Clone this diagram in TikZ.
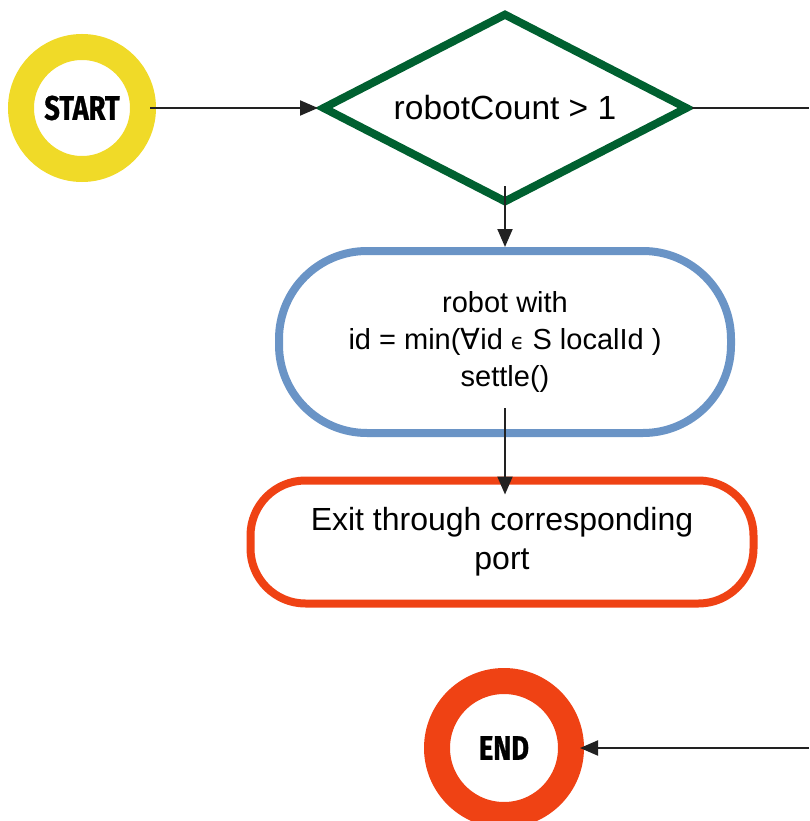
\documentclass[tikz,border=0pt]{standalone}
\usepackage{fontspec}
\setmainfont{Liberation Sans}
\newfontfamily\symfont{DejaVu Sans}
\newfontfamily\termfont[FakeStretch=0.8,FakeBold=0.8]{Fira Sans}
\usetikzlibrary{shapes.geometric,arrows.meta}
\definecolor{startyellow}{RGB}{240,218,40}
\definecolor{endred}{RGB}{239,66,20}
\definecolor{decgreen}{RGB}{0,96,48}
\definecolor{procblue}{RGB}{106,148,198}
\definecolor{arrowgray}{RGB}{34,34,34}
\tikzset{
  terminal/.style={circle, draw, line width=26pt, minimum size=122pt, inner sep=0pt,
    font=\termfont\bfseries\fontsize{34}{40}\selectfont},
  decision/.style={diamond, draw=decgreen, line width=8pt, minimum width=366pt,
    minimum height=190pt, aspect=1.93, inner sep=0pt, font=\fontsize{33.5}{38}\selectfont},
  process/.style={rectangle, draw, line width=8pt, align=center, inner sep=0pt},
  flow/.style={draw=arrowgray, line width=2pt, -{Triangle[length=18pt,width=15pt]}},
  plain/.style={draw=arrowgray, line width=2pt}
}
\begin{document}
\begin{tikzpicture}[x=1pt,y=-1pt]
  \useasboundingbox (0,0) rectangle (809,821);
  % terminals, decision and process boxes
  \node[terminal, draw=startyellow] (start) at (82,108) {START};
  \node[decision] (test) at (505,108) {robotCount > 1};
  \node[process, draw=procblue, minimum width=452pt, minimum height=182pt,
        rounded corners=88pt, font=\fontsize{29}{37}\selectfont] (settle) at (505,342)
        {robot with\\ id = min({\symfont ∀}id {\symfont\fontsize{22}{37}\selectfont ϵ} S localId )\\ settle()};
  \node[process, draw=endred, minimum width=503pt, minimum height=123pt,
        rounded corners=55pt, font=\fontsize{32}{39}\selectfont] (exit) at (502,542)
        {Exit through corresponding\\ port};
  \node[terminal, draw=endred, minimum size=134pt] (end) at (504,748) {END};
  % loose ends of the branch that leaves on the right
  \coordinate (rtop) at (809,108);
  \coordinate (rbot) at (809,748);
  % connectors
  \draw[flow] ([xshift=-6pt]start.east) -- (test.west);
  \draw[plain] (test.east) -- (rtop);
  \draw[flow] ([yshift=21pt]test.south) -- (settle.north);
  \draw[flow] ([yshift=29pt]settle.south) -- ([yshift=-18pt]settle.south |- exit.north);
  \draw[flow] (rbot) -- ([xshift=-4pt]end.east);
\end{tikzpicture}
\end{document}
